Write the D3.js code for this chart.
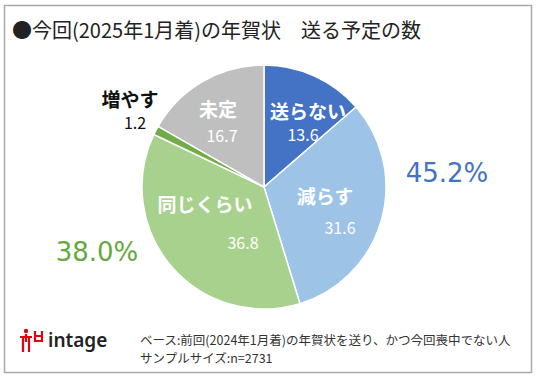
<!DOCTYPE html>
<html>
<head>
<meta charset="utf-8">
<script src="https://cdn.jsdelivr.net/npm/d3@7"></script>
<style>
  html, body { margin: 0; padding: 0; background: #fff; }
  svg { display: block; font-family: "Noto Sans CJK JP", "Noto Sans", sans-serif; }
</style>
</head>
<body>
<svg id="chart" width="536" height="378"></svg>
<script>
// data
var categories = ['送らない', '減らす', '同じくらい', '増やす', '未定'];
var values = [13.6, 31.6, 36.8, 1.2, 16.7];
var colors = ['#4472C4', '#9DC3E6', '#A9D18E', '#70AD47', '#BFBFBF'];
var groupTotals = ['45.2%', '38.0%'];

var svg = d3.select('#chart');
var cx = 264, cy = 187, r = 122;

// frame
svg.append('rect').attr('x', 4.5).attr('y', 5.5).attr('width', 527).attr('height', 367)
  .attr('fill', '#fff').attr('stroke', '#a9a9a9').attr('stroke-width', 1.5);

// title
svg.append('text').attr('x', 12).attr('y', 38).attr('font-size', 20).attr('fill', '#222')
  .text('●今回(2025年1月着)の年賀状\u3000送る予定の数');

var pie = d3.pie().sort(null).value(function(d) { return d; });
var arcs = pie(values);
var arc = d3.arc().innerRadius(0).outerRadius(r);

var g = svg.append('g').attr('transform', 'translate(' + cx + ',' + cy + ')');
g.selectAll('path').data(arcs).enter().append('path')
  .attr('d', arc)
  .attr('fill', function(d, i) { return colors[i]; })
  .attr('stroke', '#fff').attr('stroke-width', 1.5);

// label positions per slice (offset from centre): name, value
var labelPos = [
  [[44, -77], [39, -53]],
  [[61, 8], [76, 40]],
  [[-59, 16], [-21, 55]],
  [[-134, -89], [-129, -65]],
  [[-46, -79], [-42, -52]]
];
var labelColor = ['#fff', '#fff', '#fff', '#111', '#fff'];

categories.forEach(function(c, i) {
  g.append('text').attr('x', labelPos[i][0][0]).attr('y', labelPos[i][0][1])
    .attr('text-anchor', 'middle').attr('dominant-baseline', 'central')
    .attr('font-size', 19).attr('font-weight', 'bold').attr('fill', labelColor[i])
    .text(c);
  g.append('text').attr('x', labelPos[i][1][0]).attr('y', labelPos[i][1][1])
    .attr('text-anchor', 'middle').attr('dominant-baseline', 'central')
    .attr('font-size', 16).attr('fill', labelColor[i])
    .text(d3.format('.1f')(values[i]));
});

// group totals
svg.append('text').attr('x', 447).attr('y', 173).attr('text-anchor', 'middle')
  .attr('dominant-baseline', 'central').attr('font-size', 26).attr('fill', '#4472C4')
  .attr('font-family', 'Verdana, "DejaVu Sans", sans-serif')
  .text(groupTotals[0]);
svg.append('text').attr('x', 97).attr('y', 252).attr('text-anchor', 'middle')
  .attr('dominant-baseline', 'central').attr('font-size', 26).attr('fill', '#66A840')
  .attr('font-family', 'Verdana, "DejaVu Sans", sans-serif')
  .text(groupTotals[1]);

// logo
var logo = svg.append('g').attr('transform', 'translate(20,328)').attr('fill', 'none')
  .attr('stroke', '#e60012').attr('stroke-width', 2.2);
logo.append('circle').attr('cx', 6).attr('cy', 3).attr('r', 2.2).attr('fill', '#e60012').attr('stroke', 'none');
logo.append('path').attr('d', 'M0,9 L12,9 M3,9 L3,24 M9,9 L9,24 M6,6 L6,14');
logo.append('path').attr('d', 'M15,3 L15,13 L22,13 L22,3 M15,8 L22,8');
svg.append('text').attr('x', 48).attr('y', 347).attr('font-size', 19).attr('font-weight', 600)
  .attr('font-family', '"Noto Sans", sans-serif').attr('fill', '#222')
  .text('intage');

// footnote
svg.append('text').attr('x', 140).attr('y', 345).attr('font-size', 12.5).attr('fill', '#333')
  .text('ベース:前回(2024年1月着)の年賀状を送り、かつ今回喪中でない人');
svg.append('text').attr('x', 140).attr('y', 363).attr('font-size', 12.5).attr('fill', '#333')
  .text('サンプルサイズ:n=2731');
</script>
</body>
</html>
